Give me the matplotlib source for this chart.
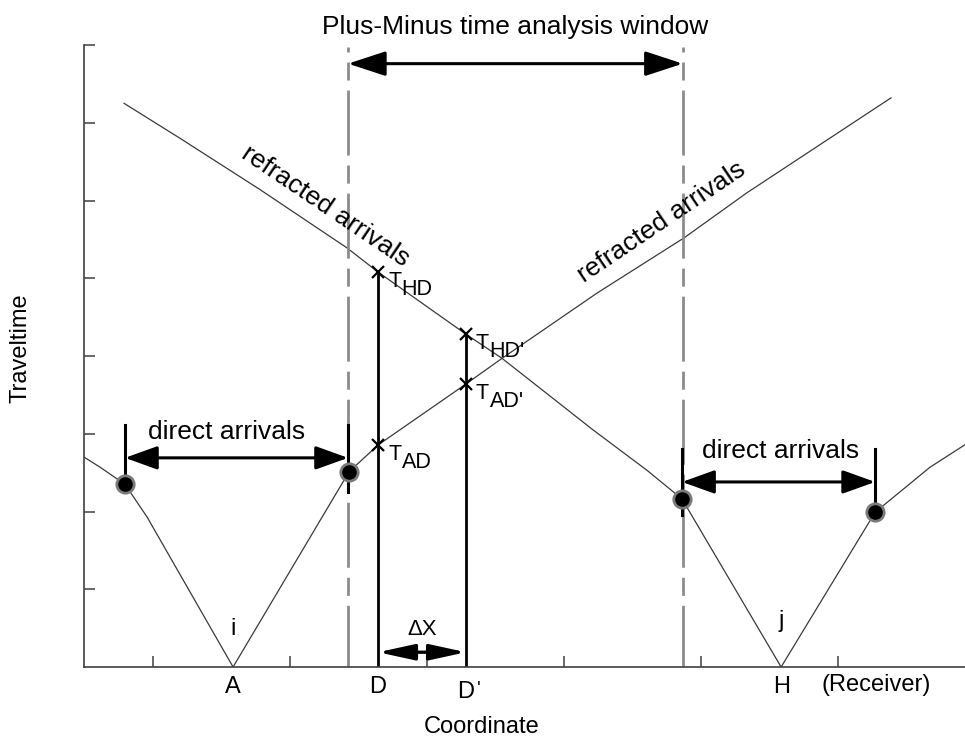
import matplotlib.pyplot as plt

plt.rcParams['font.family'] = ['Liberation Sans', 'DejaVu Sans']
plt.rcParams['lines.scale_dashes'] = False

# traveltime curve for shot H (left branch: refracted + direct, right branch)
h_left_x = [2.92, 7.01, 12.85, 19.20, 21.46, 27.88, 30.51, 37.15, 41.09, 43.65, 50.88]
h_left_y = [7.25, 6.80, 6.14, 5.39, 5.08, 4.28, 3.97, 3.05, 2.53, 2.16, 0.0]
h_right_x = [50.88, 57.74, 61.75, 64.31]
h_right_y = [0.0, 1.99, 2.57, 2.86]

# traveltime curve for shot A
a_left_x = [0.0, 1.17, 2.99, 4.60, 10.88]
a_left_y = [2.70, 2.57, 2.35, 1.93, 0.0]
a_right_x = [10.88, 19.34, 21.46, 27.88, 30.51, 37.45, 43.80, 48.39, 58.90]
a_right_y = [0.0, 2.51, 2.855, 3.64, 3.97, 4.81, 5.52, 6.10, 7.32]

# crossover points (direct -> refracted)
dots_x = [2.99, 19.34, 43.65, 57.74]
dots_y = [2.35, 2.51, 2.16, 1.99]

# geophone positions
x_A, x_D, x_D2, x_H = 10.88, 21.46, 27.88, 50.88
t_HD, t_AD, t_HD2, t_AD2 = 5.08, 2.855, 4.28, 3.64
win_left, win_right = 19.27, 43.70

fig = plt.figure(figsize=(9.65, 7.38), dpi=100)
ax = fig.add_axes([84 / 965, 71 / 738, 881 / 965, 622 / 738])
ax.set_xlim(0, 64.3)
ax.set_ylim(0, 8)

line_c = '#3a3a3a'
ax.plot(h_left_x, h_left_y, color=line_c, lw=0.9)
ax.plot(h_right_x, h_right_y, color=line_c, lw=0.9)
ax.plot(a_left_x, a_left_y, color=line_c, lw=0.9)
ax.plot(a_right_x, a_right_y, color=line_c, lw=0.9)

# analysis window
for xw in [win_left, win_right]:
    ax.plot([xw, xw], [7.97, 0], color='#8c8c8c', lw=2.0,
            linestyle=(43.2, (46.8, 7.2, 13.0, 7.2)))
ax.annotate('', xy=(win_right, 7.76), xytext=(win_left, 7.76),
            arrowprops=dict(arrowstyle='<|-|>,head_length=0.58,head_width=0.19',
                            mutation_scale=40, lw=2.2, color='black',
                            shrinkA=0, shrinkB=0))

# vertical lines at D and D'
ax.plot([x_D, x_D], [0, t_HD], color='black', lw=2.0)
ax.plot([x_D2, x_D2], [0, t_HD2], color='black', lw=2.0)

# direct arrivals brackets
ax.plot([2.99, 2.99], [3.11, 2.35], color='black', lw=2.2)
ax.plot([19.27, 19.27], [3.11, 2.25], color='black', lw=2.2)
ax.plot([43.65, 43.65], [2.80, 1.95], color='black', lw=2.2)
ax.plot([57.74, 57.74], [2.80, 1.99], color='black', lw=2.2)
for x1, x2, yy in [(2.99, 19.27, 2.69), (43.65, 57.74, 2.38)]:
    ax.annotate('', xy=(x2, yy), xytext=(x1, yy),
                arrowprops=dict(arrowstyle='<|-|>,head_length=0.5,head_width=0.18',
                                mutation_scale=40, lw=2.2, color='black',
                                shrinkA=0, shrinkB=0))

ax.plot(dots_x, dots_y, 'o', ms=12.5, color='black', mec='#7a7a7a', mew=2.0)

# delta x
ax.annotate('', xy=(x_D2, 0.19), xytext=(x_D, 0.19),
            arrowprops=dict(arrowstyle='<|-|>,head_length=0.55,head_width=0.12',
                            mutation_scale=40, lw=2.4, color='black',
                            shrinkA=0, shrinkB=0))
ax.text((x_D + x_D2) / 2, 0.41, '\u0394X', fontsize=16, ha='center', va='baseline')

# picked times
ax.plot([x_D, x_D, x_D2, x_D2], [t_HD, t_AD, t_HD2, t_AD2], 'x', ms=9,
        mew=1.6, color='black')
for xx, yy, sub in [(x_D, t_HD, 'HD'), (x_D, t_AD, 'AD'),
                    (x_D2, t_HD2, "HD'"), (x_D2, t_AD2, "AD'")]:
    ax.annotate('T', xy=(xx, yy), xytext=(7.2, -10.8), textcoords='offset points',
                ha='left', va='baseline', fontsize=15.5)
    ax.annotate(sub, xy=(xx, yy), xytext=(17.0, -16.4), textcoords='offset points',
                ha='left', va='baseline', fontsize=15.5)

# labels
ax.text(10.44, 2.93, 'direct arrivals', fontsize=19, ha='center', va='baseline')
ax.text(50.84, 2.69, 'direct arrivals', fontsize=19, ha='center', va='baseline')
ax.text(17.66, 5.93, 'refracted arrivals', fontsize=19, ha='center', va='center',
        rotation=-34, rotation_mode='anchor')
ax.text(42.19, 5.72, 'refracted arrivals', fontsize=19, ha='center', va='center',
        rotation=34, rotation_mode='anchor')
ax.text(x_A, 0.41, 'i', fontsize=17, ha='center', va='baseline')
ax.text(x_H, 0.51, 'j', fontsize=17, ha='center', va='baseline')

ax.text(x_A, -0.334, 'A', fontsize=17, ha='center', va='baseline', clip_on=False)
ax.text(x_D, -0.334, 'D', fontsize=17, ha='center', va='baseline', clip_on=False)
ax.text(x_D2, -0.40, 'D', fontsize=17, ha='center', va='baseline', clip_on=False)
ax.text(x_D2 + 0.95, -0.347, "'", fontsize=14, ha='center', va='baseline', clip_on=False)
ax.text(x_H, -0.334, 'H', fontsize=17, ha='center', va='baseline', clip_on=False)
ax.text(57.8, -0.31, '(Receiver)', fontsize=17, ha='center', va='baseline', clip_on=False)

fig.text(515 / 965, 1 - 34 / 738, 'Plus-Minus time analysis window', fontsize=19,
         ha='center', va='baseline')
fig.text(482 / 965, 1 - 733 / 738, 'Coordinate', fontsize=17, ha='center', va='baseline')
fig.text(21 / 965, 1 - 348 / 738, 'Traveltime', fontsize=17, ha='center', va='center',
         rotation=90)

# axes styling
for side in ['top', 'right']:
    ax.spines[side].set_visible(False)
for side in ['left', 'bottom']:
    ax.spines[side].set_color('#404040')
    ax.spines[side].set_linewidth(1.2)
ax.set_xticks([5, 15, 25, 35, 45, 55])
ax.set_yticks([1, 2, 3, 4, 5, 6, 7, 8])
ax.tick_params(direction='in', length=8, width=1.1, color='#404040',
               labelbottom=False, labelleft=False)

fig.savefig('out.png', dpi=100)
